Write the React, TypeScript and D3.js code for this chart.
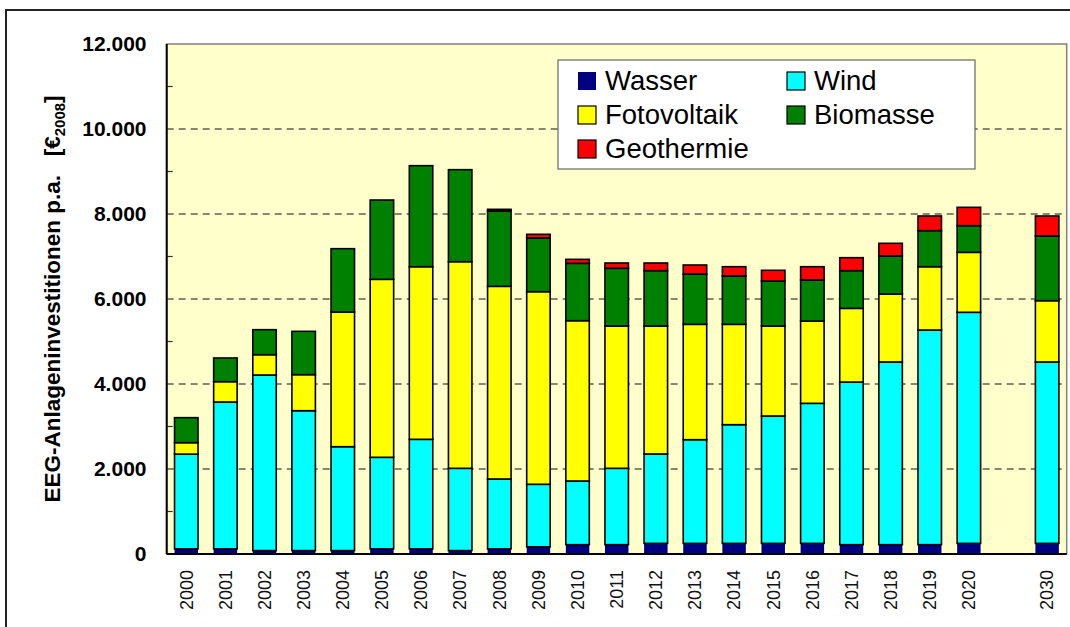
import React, { useEffect, useRef } from "react";
import * as d3 from "d3";

const years = ["2000","2001","2002","2003","2004","2005","2006","2007","2008","2009","2010","2011","2012","2013","2014","2015","2016","2017","2018","2019","2020","2030"];
const wasser = [120,120,80,80,80,120,120,80,120,170,220,220,250,250,250,250,250,220,220,220,250,250];
const wind = [2230,3456,4132,3292,2445,2155,2578,1936,1645,1470,1498,1796,2103,2440,2793,2997,3295,3825,4298,5050,5437,4268];
const fotovoltaik = [270,479,478,848,3169,4188,4062,4862,4533,4532,3772,3349,3012,2714,2361,2118,1937,1735,1600,1490,1411,1443];
const biomasse = [588,557,588,1019,1490,1866,2377,2165,1772,1263,1349,1357,1302,1184,1137,1059,965,887,894,848,627,1521];
const geothermie = [0,0,0,0,0,0,0,0,40,87,94,125,180,212,219,251,313,305,298,345,432,471];
const yTicks = [0,2000,4000,6000,8000,10000,12000];
const minorTicks = [1000,3000,5000,7000,9000,11000];

const seriesKeys = ["Wasser","Wind","Fotovoltaik","Biomasse","Geothermie"];
const seriesColors = ["#000080","#00FFFF","#FFFF00","#008000","#FF0000"];

export default function App() {
  const ref = useRef<SVGSVGElement>(null);

  useEffect(() => {
    const svg = d3.select(ref.current);
    svg.selectAll("*").remove();

    const left = 166.7, right = 1066.7, top = 44, bottom = 554;

    // slots: one empty slot between 2020 and 2030
    const slots = years.slice(0, -1).concat(["gap", years[years.length - 1]]);
    const x = d3.scaleBand().domain(slots).range([left, right]).paddingInner(0.4).paddingOuter(0.2);
    const y = d3.scaleLinear().domain([0, 12000]).range([bottom, top]);

    const table = years.map((yr, i) => ({
      year: yr,
      Wasser: wasser[i],
      Wind: wind[i],
      Fotovoltaik: fotovoltaik[i],
      Biomasse: biomasse[i],
      Geothermie: geothermie[i],
    }));
    const stacked = d3.stack<any>().keys(seriesKeys)(table);

    // outer frame
    svg.append("path")
      .attr("d", "M6,627 V10 H1070")
      .attr("fill", "none")
      .attr("stroke", "#222")
      .attr("stroke-width", 2);

    // plot background
    svg.append("rect")
      .attr("x", left).attr("y", top)
      .attr("width", right - left).attr("height", bottom - top)
      .attr("fill", "#FFFFCC")
      .attr("stroke", "#808080")
      .attr("stroke-width", 1.5);

    // grid lines
    svg.append("g").selectAll("line")
      .data(yTicks.filter(d => d > 0 && d < 12000))
      .enter().append("line")
      .attr("x1", left).attr("x2", right)
      .attr("y1", d => y(d)).attr("y2", d => y(d))
      .attr("stroke", "#111")
      .attr("stroke-width", 1)
      .attr("stroke-dasharray", "7,5");

    // minor ticks
    svg.append("g").selectAll("line")
      .data(minorTicks)
      .enter().append("line")
      .attr("x1", left).attr("x2", left + 6)
      .attr("y1", d => y(d)).attr("y2", d => y(d))
      .attr("stroke", "#333")
      .attr("stroke-width", 1.2);

    // bars
    const g = svg.append("g");
    stacked.forEach((layer, li) => {
      g.append("g").selectAll("rect")
        .data(layer.filter(d => d[1] - d[0] > 0))
        .enter().append("rect")
        .attr("x", d => x(d.data.year) as number)
        .attr("width", x.bandwidth())
        .attr("y", d => y(d[1]))
        .attr("height", d => y(d[0]) - y(d[1]))
        .attr("fill", seriesColors[li])
        .attr("stroke", li === 0 ? "none" : "#000")
        .attr("stroke-width", 1.6);
    });

    // axes lines
    svg.append("line")
      .attr("x1", left).attr("x2", left).attr("y1", top).attr("y2", bottom)
      .attr("stroke", "#000").attr("stroke-width", 2);
    svg.append("line")
      .attr("x1", left).attr("x2", right).attr("y1", bottom).attr("y2", bottom)
      .attr("stroke", "#000").attr("stroke-width", 2);

    // y tick labels
    svg.append("g").selectAll("text")
      .data(yTicks)
      .enter().append("text")
      .attr("x", 146.5)
      .attr("y", d => y(d))
      .attr("dy", "0.34em")
      .attr("text-anchor", "end")
      .attr("font-family", "Liberation Sans, Arial, sans-serif")
      .attr("font-weight", "bold")
      .attr("font-size", 21)
      .text(d => d === 0 ? "0" : d3.format(",")(d).replace(/,/g, "."));

    // x tick labels
    svg.append("g").selectAll("text")
      .data(years)
      .enter().append("text")
      .attr("transform", d => `translate(${(x(d) as number) + x.bandwidth() / 2},570) rotate(-90)`)
      .attr("dy", "0.35em")
      .attr("text-anchor", "end")
      .attr("font-family", "Liberation Sans, Arial, sans-serif")
      .attr("font-size", 18)
      .attr("fill", "#111")
      .text(d => d);

    // y axis title
    const yt = svg.append("text")
      .attr("transform", `translate(60,${(top + bottom) / 2}) rotate(-90)`)
      .attr("text-anchor", "middle")
      .attr("font-family", "Liberation Sans, Arial, sans-serif")
      .attr("font-weight", "bold")
      .attr("font-size", 22.5);
    yt.append("tspan").text("EEG-Anlageninvestitionen p.a.\u00a0\u00a0\u00a0[€");
    yt.append("tspan").attr("font-size", 15).attr("dy", 5).text("2008");
    yt.append("tspan").attr("dy", -5).text("]");

    // legend
    const lg = svg.append("g");
    lg.append("rect")
      .attr("x", 558).attr("y", 60).attr("width", 417).attr("height", 109)
      .attr("fill", "#fff").attr("stroke", "#666").attr("stroke-width", 1.2);
    const legendPos = [[578, 72], [787, 72], [578, 106], [787, 106], [578, 140]];
    const legendOrder = [0, 1, 2, 3, 4];
    legendOrder.forEach((si, k) => {
      const [lx, ly] = legendPos[k];
      lg.append("rect")
        .attr("x", lx).attr("y", ly).attr("width", 18).attr("height", 18)
        .attr("fill", seriesColors[si])
        .attr("stroke", si === 0 ? "none" : "#000").attr("stroke-width", 1.2);
      lg.append("text")
        .attr("x", lx + 27).attr("y", ly + 17.5)
        .attr("font-family", "Liberation Sans, Arial, sans-serif")
        .attr("font-size", 27.5)
        .text(seriesKeys[si]);
    });
  }, []);

  return (
    <svg
      ref={ref}
      width={1070}
      height={627}
      style={{ position: "absolute", left: 0, top: 0, background: "#fff" }}
    />
  );
}
